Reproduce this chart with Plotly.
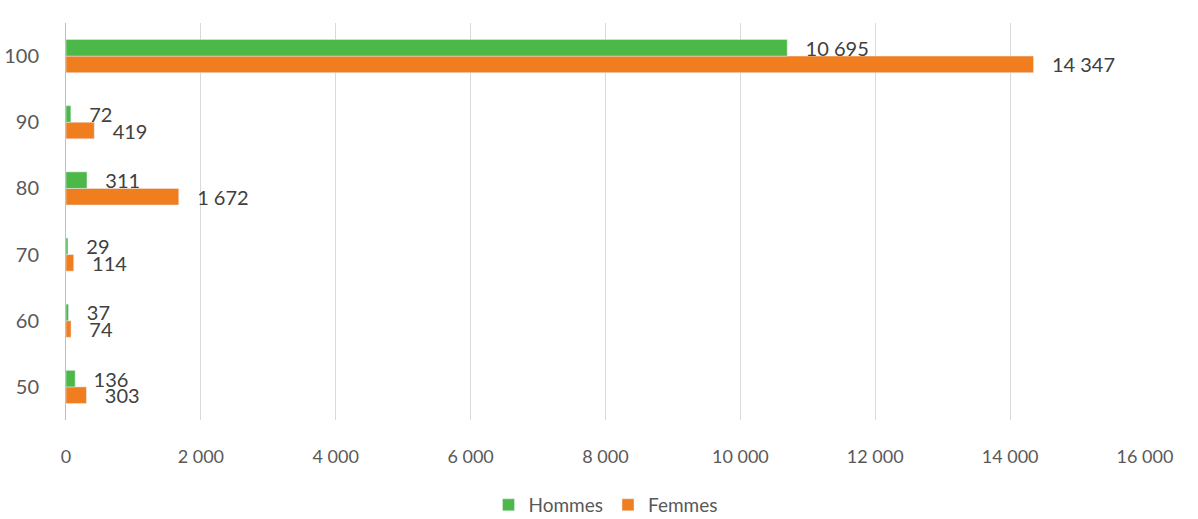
import plotly.graph_objects as go

# Données
AGES = ["50", "60", "70", "80", "90", "100"]
HOMMES = [136, 37, 29, 311, 72, 10695]
FEMMES = [303, 74, 114, 1672, 419, 14347]
X_TICKS = [0, 2000, 4000, 6000, 8000, 10000, 12000, 14000, 16000]

COLOR_H = "#4CB848"
COLOR_F = "#F07D1E"
FONT = "Lato, 'Open Sans', sans-serif"
PAD = "\u00a0\u00a0\u00a0"


def fmt(v):
    return f"{v:,}".replace(",", " ")


fig = go.Figure()
fig.add_trace(go.Bar(
    y=AGES, x=FEMMES, orientation="h", name="Femmes",
    marker_color=COLOR_F, legendrank=2,
    text=[PAD + fmt(v) for v in FEMMES], textposition="outside",
    textfont=dict(size=20, color="#404040"), cliponaxis=False,
    constraintext="none",
))
fig.add_trace(go.Bar(
    y=AGES, x=HOMMES, orientation="h", name="Hommes",
    marker_color=COLOR_H, legendrank=1,
    text=[PAD + fmt(v) for v in HOMMES], textposition="outside",
    textfont=dict(size=20, color="#404040"), cliponaxis=False,
    constraintext="none",
))

fig.update_layout(
    width=1198, height=519,
    paper_bgcolor="white", plot_bgcolor="white",
    margin=dict(l=66, r=53, t=23, b=99),
    barmode="group", bargap=0.5, bargroupgap=0,
    separators=", ",
    font=dict(family=FONT, size=17, color="#595959"),
    xaxis=dict(
        range=[0, 16000], tickvals=X_TICKS,
        ticktext=[fmt(v) for v in X_TICKS],
        showgrid=True, gridcolor="#D9D9D9", gridwidth=1,
        zeroline=False, showline=False, automargin=False,
        ticks="outside", ticklen=20, tickcolor="rgba(0,0,0,0)",
        tickfont=dict(size=18, color="#595959"),
    ),
    yaxis=dict(
        categoryorder="array", categoryarray=AGES,
        showgrid=False, zeroline=False, automargin=False,
        showline=True, linecolor="#BFBFBF", linewidth=1,
        ticks="outside", ticklen=22, tickcolor="rgba(0,0,0,0)",
        tickfont=dict(size=20, color="#595959"),
    ),
    legend=dict(
        orientation="h", x=0.5, xanchor="center",
        yref="container", y=0.027, yanchor="middle",
        font=dict(size=19, color="#595959"),
        itemwidth=30,
    ),
)

fig.write_html("out.html", config={"displayModeBar": False},
               post_script="document.body.style.margin='0';")
